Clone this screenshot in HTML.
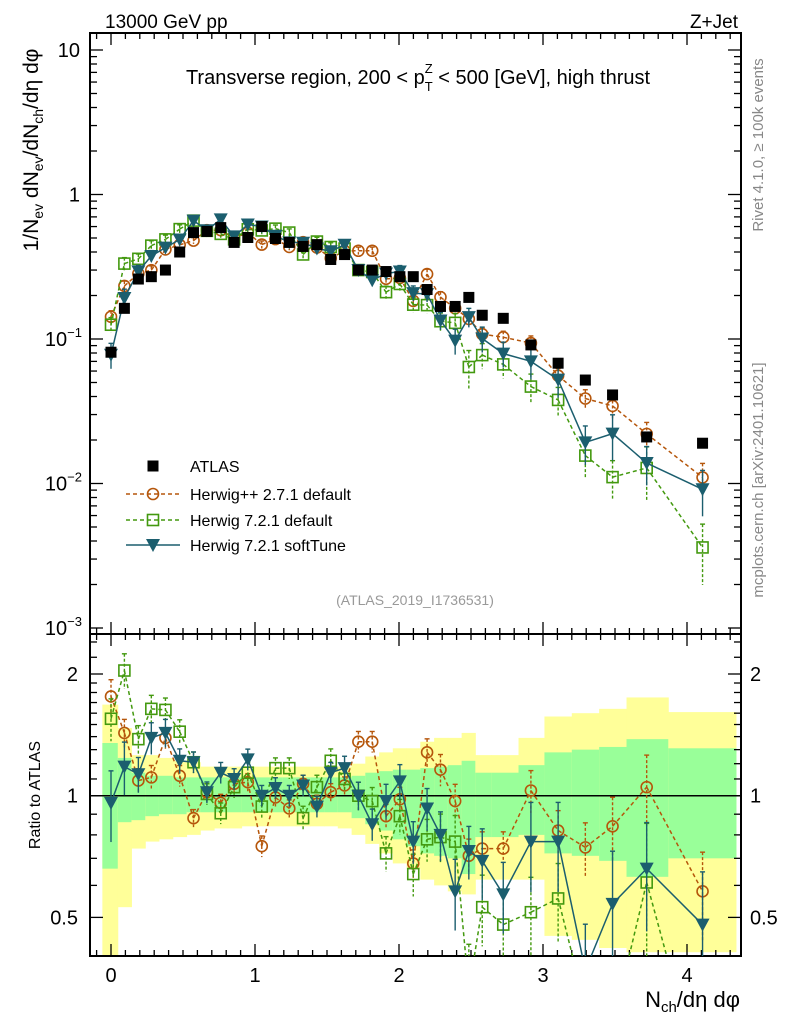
<!DOCTYPE html>
<html><head><meta charset="utf-8"><style>
html,body{margin:0;padding:0;background:#fff;width:786px;height:1024px;overflow:hidden}
svg{display:block;font-family:"Liberation Sans",sans-serif;overflow:hidden}
</style></head><body>
<svg id="chart" width="786" height="1024" viewBox="0 0 786 1024" xmlns="http://www.w3.org/2000/svg">
<defs>
<clipPath id="ctop"><rect x="90" y="33" width="651" height="601"/></clipPath>
<clipPath id="crat"><rect x="90" y="634" width="651" height="322"/></clipPath>
</defs>
<g id="bands" clip-path="url(#crat)"></g>
<g id="grid"></g>
<g id="topmarks" clip-path="url(#ctop)"></g>
<g id="ratmarks" clip-path="url(#crat)"></g>
<text x="105" y="28" font-size="19">13000 GeV pp</text>
<text x="738" y="28" font-size="19" text-anchor="end">Z+Jet</text>
<text x="418" y="84" font-size="20" text-anchor="middle">Transverse region, 200 &lt; p<tspan font-size="13" dy="7">T</tspan><tspan font-size="13" dx="-8" dy="-18">Z</tspan><tspan dy="11"> &lt; 500 [GeV], high thrust</tspan></text>
<text x="415" y="605" font-size="14" fill="#999" text-anchor="middle">(ATLAS_2019_I1736531)</text>
<text transform="translate(763,145) rotate(-90)" font-size="15" fill="#888" text-anchor="middle">Rivet 4.1.0, ≥ 100k events</text>
<text transform="translate(763,480) rotate(-90)" font-size="15" fill="#888" text-anchor="middle">mcplots.cern.ch [arXiv:2401.10621]</text>
<text transform="translate(38,150) rotate(-90)" font-size="21" text-anchor="middle">1/N<tspan font-size="14" dy="5">ev</tspan><tspan dy="-5"> dN</tspan><tspan font-size="14" dy="5">ev</tspan><tspan dy="-5">/dN</tspan><tspan font-size="14" dy="5">ch</tspan><tspan dy="-5">/dη dφ</tspan></text>
<text transform="translate(40,795) rotate(-90)" font-size="16" text-anchor="middle">Ratio to ATLAS</text>
<text x="740" y="1007" font-size="22" text-anchor="end">N<tspan font-size="15" dy="5">ch</tspan><tspan dy="-5">/dη dφ</tspan></text>
<g id="legend"></g>
</svg>
<script>
const xs=[0,0.093,0.19,0.28,0.378,0.477,0.573,0.666,0.762,0.855,0.95,1.047,1.142,1.238,1.334,1.43,1.526,1.622,1.718,1.814,1.91,2.006,2.099,2.195,2.288,2.39,2.485,2.578,2.724,2.916,3.105,3.294,3.483,3.72,4.108];
const edges=[-0.06,0.047,0.142,0.238,0.333,0.429,0.525,0.620,0.716,0.811,0.907,1.002,1.098,1.193,1.289,1.384,1.480,1.575,1.671,1.766,1.862,1.957,2.053,2.148,2.244,2.339,2.435,2.530,2.640,2.830,3.010,3.200,3.390,3.580,3.870,4.340];
const atlas=[0.081,0.163,0.26,0.27,0.30,0.40,0.545,0.555,0.59,0.466,0.504,0.60,0.496,0.466,0.437,0.45,0.355,0.384,0.30,0.30,0.293,0.27,0.27,0.22,0.168,0.168,0.194,0.146,0.139,0.091,0.068,0.052,0.041,0.021,0.019];
const ratioHpp=[1.76,1.43,1.09,1.11,1.39,1.12,0.88,1.02,0.96,1.07,1.08,0.75,0.99,0.93,1.07,0.955,1.02,1.06,1.36,1.36,0.89,0.98,0.68,1.28,1.16,0.97,0.71,0.74,0.74,1.03,0.82,0.745,0.84,1.05,0.58];
const ratioH7=[1.55,2.04,1.38,1.64,1.63,1.44,1.21,1.01,0.905,1.05,1.14,0.94,1.17,1.17,0.88,1.05,1.22,1.10,1.0,0.97,0.72,0.89,0.64,0.78,0.79,0.77,0.33,0.53,0.48,0.515,0.557,0.3,0.27,0.61,0.19];
const ratioSoft=[0.96,1.18,1.13,1.39,1.43,1.22,1.21,1.02,1.14,1.10,1.23,1.0,1.045,1.0,1.06,0.94,1.14,1.17,1.0,0.85,0.97,1.085,0.77,0.93,0.80,0.58,0.73,0.69,0.57,0.77,0.77,0.37,0.54,0.66,0.48];
const errHpp=[0.1,0.08,0.07,0.07,0.06,0.06,0.05,0.05,0.05,0.05,0.05,0.06,0.05,0.05,0.05,0.05,0.05,0.05,0.06,0.06,0.07,0.07,0.08,0.08,0.09,0.1,0.1,0.1,0.1,0.12,0.12,0.15,0.18,0.2,0.25];
const errH7=[0.12,0.1,0.08,0.08,0.07,0.07,0.06,0.06,0.06,0.06,0.06,0.07,0.06,0.06,0.07,0.07,0.07,0.07,0.08,0.08,0.1,0.1,0.12,0.12,0.14,0.16,0.3,0.2,0.2,0.22,0.22,0.3,0.3,0.4,0.45];
const errSoft=[0.2,0.15,0.1,0.09,0.08,0.07,0.06,0.06,0.06,0.06,0.06,0.06,0.06,0.06,0.06,0.06,0.06,0.07,0.08,0.09,0.1,0.1,0.12,0.12,0.14,0.2,0.15,0.2,0.2,0.25,0.25,0.3,0.35,0.3,0.35];
const yelUp=[1.68,1.47,1.26,1.26,1.24,1.22,1.21,1.18,1.18,1.18,1.18,1.18,1.18,1.18,1.18,1.18,1.18,1.18,1.2,1.25,1.28,1.31,1.31,1.36,1.39,1.39,1.43,1.26,1.26,1.39,1.57,1.60,1.64,1.75,1.61];
const grnUp=[1.35,1.24,1.14,1.12,1.12,1.11,1.11,1.11,1.11,1.11,1.11,1.11,1.11,1.11,1.11,1.11,1.11,1.11,1.12,1.14,1.15,1.16,1.16,1.17,1.18,1.19,1.22,1.14,1.14,1.19,1.28,1.30,1.32,1.38,1.31];
const grnDn=[0.66,0.86,0.87,0.89,0.90,0.90,0.91,0.91,0.91,0.91,0.91,0.91,0.91,0.91,0.91,0.91,0.91,0.91,0.88,0.85,0.82,0.78,0.75,0.72,0.71,0.70,0.64,0.79,0.79,0.80,0.72,0.71,0.69,0.63,0.70];
const yelDn=[0.35,0.53,0.74,0.77,0.78,0.79,0.80,0.82,0.83,0.83,0.84,0.84,0.84,0.84,0.84,0.84,0.84,0.83,0.80,0.76,0.72,0.68,0.66,0.62,0.60,0.58,0.57,0.62,0.62,0.62,0.45,0.44,0.42,0.41,0.41];
const majorX=[0,1,2,3,4];
const decades=[10,1,0.1,0.01,0.001];
const decadeLabels=["10","1","10^-1","10^-2","10^-3"];
const ratioTicks=[0.5,1,2];
const ratioLabels=["0.5","1","2"];

const NS="http://www.w3.org/2000/svg";
const X=u=>111+144*u;
const clampT=y=>Math.min(634,Math.max(33,y));
const clampR=y=>Math.min(956,Math.max(634,y));
const YT=v=>194.5-144.5*Math.log10(v);
const YR=r=>795.7-121.7*Math.log2(r);
const YRc=r=>clampR(YR(r));
function mk(tag,attrs,parent){const e=document.createElementNS(NS,tag);for(const k in attrs)e.setAttribute(k,attrs[k]);parent.appendChild(e);return e;}
const grid=document.getElementById('grid'),bands=document.getElementById('bands');
const topG=document.getElementById('topmarks'),ratG=document.getElementById('ratmarks'),leg=document.getElementById('legend');

for(let i=0;i<xs.length;i++){
  const x0=X(edges[i]),w=X(edges[i+1])-x0;
  const y1=mk('rect',{x:x0,y:YRc(yelUp[i]),width:w+0.5,height:YRc(yelDn[i])-YRc(yelUp[i]),fill:'#ffff99'},bands);
  
  
  const g1=mk('rect',{x:x0,y:YRc(grnUp[i]),width:w+0.5,height:YRc(grnDn[i])-YRc(grnUp[i]),fill:'#99ff99'},bands);
  
  
}
const fr1=mk('rect',{x:90,y:33,width:651,height:601,fill:'none',stroke:'#000','stroke-width':2},grid);


const fr2=mk('rect',{x:90,y:634,width:651,height:322,fill:'none',stroke:'#000','stroke-width':2},grid);


const one=mk('line',{x1:90,x2:741,y1:YR(1),y2:YR(1),stroke:'#000','stroke-width':1.5},grid);


for(let k=-1;k<=43;k++){
  const u=k/10;const x=X(u);if(x<91||x>740)continue;
  const maj=k%10===0;const L=maj?12:6;
  [[33,1],[634,-1],[634,1],[956,-1]].forEach(([y,d])=>{mk('line',{x1:x,x2:x,y1:y,y2:y+d*L,stroke:'#000','stroke-width':1.3},grid);});
}
majorX.forEach(u=>{const t=mk('text',{x:X(u),y:982,'font-size':20,'text-anchor':'middle'},grid);t.textContent=u;
 
 });
decades.forEach((d,i)=>{
  const y=YT(d);
  mk('line',{x1:90,x2:103,y1:y,y2:y,stroke:'#000','stroke-width':1.3},grid);
  mk('line',{x1:741,x2:728,y1:y,y2:y,stroke:'#000','stroke-width':1.3},grid);
  if(i<4)for(let m=2;m<=9;m++){const yy=YT(d*m/10);mk('line',{x1:90,x2:97,y1:yy,y2:yy,stroke:'#000','stroke-width':1.3},grid);mk('line',{x1:741,x2:734,y1:yy,y2:yy,stroke:'#000','stroke-width':1.3},grid);}
  const lab=decadeLabels[i];const t=mk('text',{x:80,y:y+7,'font-size':20,'text-anchor':'end'},grid);
  
  
  if(lab.includes('^')){const [b,e]=lab.split('^');t.textContent=b;const s=mk('tspan',{'font-size':13,dy:-9},t);s.textContent=e.replace('-','−');t.setAttribute('x',82);}
  else t.textContent=lab;
});
[0.4,0.6,0.7,0.8,0.9,1.1,1.2,1.3,1.4,1.5,1.6,1.7,1.8,1.9,2.2,2.4].forEach(r=>{const y=YR(r);if(y<635||y>955)return;
 mk('line',{x1:90,x2:97,y1:y,y2:y,stroke:'#000','stroke-width':1.3},grid);mk('line',{x1:741,x2:734,y1:y,y2:y,stroke:'#000','stroke-width':1.3},grid);});
ratioTicks.forEach((r,i)=>{const y=YR(r);
 mk('line',{x1:90,x2:103,y1:y,y2:y,stroke:'#000','stroke-width':1.3},grid);mk('line',{x1:741,x2:728,y1:y,y2:y,stroke:'#000','stroke-width':1.3},grid);
 const t=mk('text',{x:78,y:y+7,'font-size':20,'text-anchor':'end'},grid);t.textContent=ratioLabels[i];
 
 
 const t2=mk('text',{x:750,y:y+7,'font-size':20},grid);t2.textContent=ratioLabels[i];
 
 });

function marker(g,type,x,y,col){
  if(type==='sq'){return mk('rect',{x:x-5.5,y:y-5.5,width:11,height:11,fill:'#000'},g);}
  if(type==='circ'){return mk('circle',{cx:x,cy:y,r:5.5,fill:'none',stroke:col,'stroke-width':1.6},g);}
  if(type==='osq'){return mk('rect',{x:x-5.5,y:y-5.5,width:11,height:11,fill:'none',stroke:col,'stroke-width':1.6},g);}
  return mk('path',{d:`M${x-7},${y-6}L${x+7},${y-6}L${x},${y+7}Z`,fill:col},g);
}
// clip segment to y range, returns [x1,y1,x2,y2] or null
function clipSeg(x1,y1,x2,y2,ymin,ymax){
  if((y1<ymin&&y2<ymin)||(y1>ymax&&y2>ymax))return null;
  const f=(y)=>x1+(x2-x1)*(y-y1)/(y2-y1);
  if(y1<ymin){x1=f(ymin);y1=ymin;} else if(y1>ymax){x1=f(ymax);y1=ymax;}
  // recompute with new start for end
  const g=(y,ax,ay)=>ax+(x2-ax)*(y-ay)/(y2-ay);
  if(y2<ymin){x2=g(ymin,x1,y1);y2=ymin;} else if(y2>ymax){x2=g(ymax,x1,y1);y2=ymax;}
  return [x1,y1,x2,y2];
}
const series=[
 {name:'herwigpp',ratio:ratioHpp,err:errHpp,col:'#b5560b',type:'circ',dash:'4,3'},
 {name:'herwig7-default',ratio:ratioH7,err:errH7,col:'#43990f',type:'osq',dash:'4,3'},
 {name:'herwig7-softtune',ratio:ratioSoft,err:errSoft,col:'#1b5e6e',type:'tri',dash:null}
];
series.forEach(s=>{
  const vals=s.ratio.map((r,i)=>r*atlas[i]);
  [[topG,vals,YT,clampT,33,634],[ratG,s.ratio,YR,clampR,634,956]].forEach(([g,arr,Y,C,ymin,ymax])=>{
    for(let i=0;i<arr.length-1;i++){
      const c=clipSeg(X(xs[i]),Y(arr[i]),X(xs[i+1]),Y(arr[i+1]),ymin,ymax);
      if(!c)continue;
      const ln=mk('line',{x1:c[0],y1:c[1],x2:c[2],y2:c[3],stroke:s.col,'stroke-width':1.5},g);
      if(s.dash)ln.setAttribute('stroke-dasharray',s.dash);
      
      
    }
    arr.forEach((v,i)=>{
      const x=X(xs[i]);const e=s.err[i];
      const yTop=C(Y(v*(1+e))),yBot=C(Y(v*(1-e)));
      if(yTop!==yBot){
        const eb=mk('line',{x1:x,x2:x,y1:yTop,y2:yBot,stroke:s.col,'stroke-width':1.4},g);
        if(s.dash)eb.setAttribute('stroke-dasharray','3,2');
        
        
        mk('line',{x1:x-2.5,x2:x+2.5,y1:yTop,y2:yTop,stroke:s.col,'stroke-width':1.4},g);
      }
      const yv=Y(v);
      if(yv>=ymin&&yv<=ymax){
        const m=marker(g,s.type,x,yv,s.col);
        
        
      }
    });
  });
});
atlas.forEach((v,i)=>{const m=marker(topG,'sq',X(xs[i]),YT(v),'#000');
 
 });

const entries=[['ATLAS','sq','#000',null,null],['Herwig++ 2.7.1 default','circ','#b5560b','4,3'],['Herwig 7.2.1 default','osq','#43990f','4,3'],['Herwig 7.2.1 softTune','tri','#1b5e6e',null]];
const ly=[466,494,520,545];
entries.forEach((en,i)=>{
  const y=ly[i];
  if(i>0){const l=mk('line',{x1:126,x2:180,y1:y,y2:y,stroke:en[2],'stroke-width':1.5},leg);if(en[3])l.setAttribute('stroke-dasharray',en[3]);
   
   }
  marker(leg,en[1],153,y,en[2]);
  const t=mk('text',{x:190,y:y+6,'font-size':16},leg);t.textContent=en[0];
  
  
});
</script>
</body></html>
